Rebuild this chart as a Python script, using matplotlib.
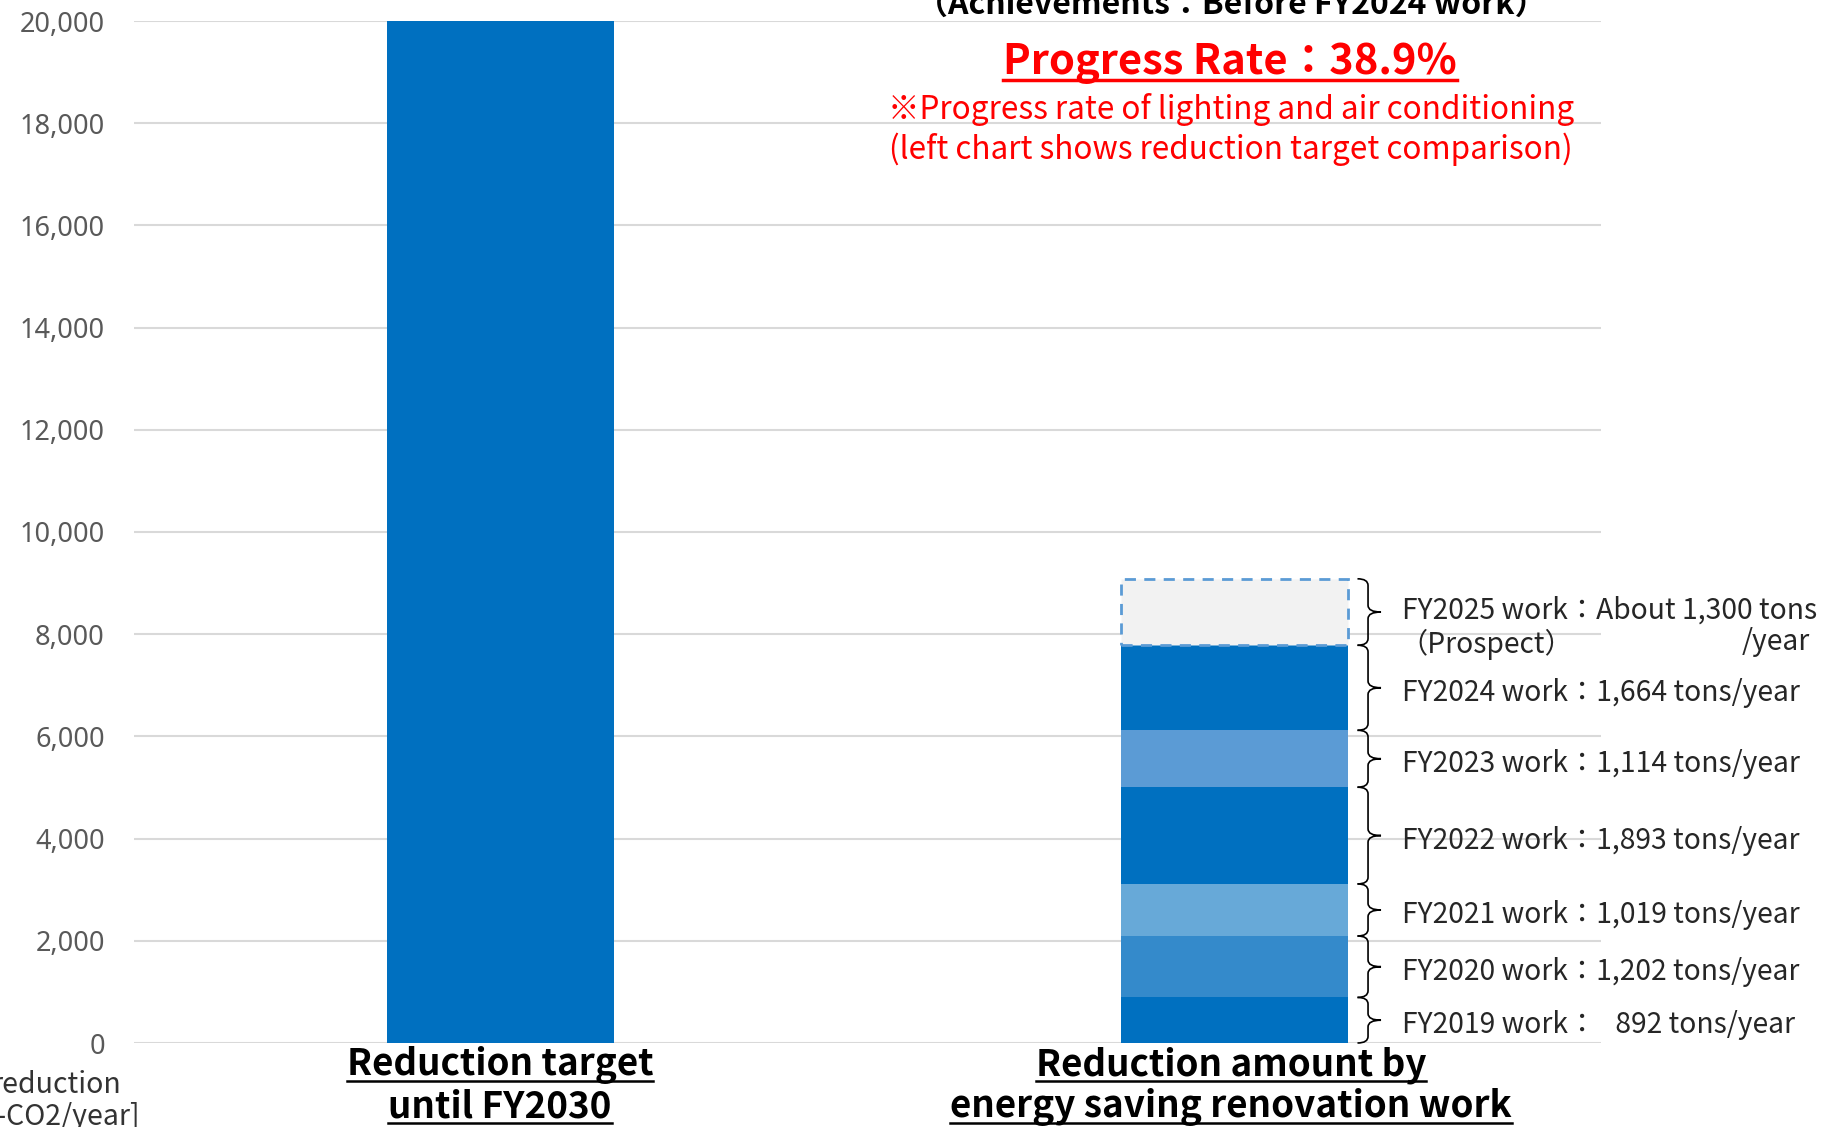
import matplotlib
matplotlib.use("Agg")
import matplotlib.pyplot as plt
from matplotlib.path import Path
from matplotlib.patches import PathPatch
from matplotlib.lines import Line2D

# ---------------- data ----------------
categories = ["Reduction target", "Reduction amount by"]
cat_line2 = ["until FY2030", "energy saving renovation work"]
target_value = 20000
work_years = ["FY2019", "FY2020", "FY2021", "FY2022", "FY2023", "FY2024", "FY2025"]
work_values = [892, 1202, 1019, 1893, 1114, 1664, 1300]
work_labels = [
    "FY2019 work：   892 tons/year",
    "FY2020 work：1,202 tons/year",
    "FY2021 work：1,019 tons/year",
    "FY2022 work：1,893 tons/year",
    "FY2023 work：1,114 tons/year",
    "FY2024 work：1,664 tons/year",
    "FY2025 work：About 1,300 tons",
]
seg_colors = ["#0070C0", "#348ACB", "#67A9D8", "#0070C0", "#5B9BD5", "#0070C0", "#F2F2F2"]
yticks = list(range(0, 20001, 2000))

W, H = 1827, 1127
FONT = ["Noto Sans CJK JP", "DejaVu Sans"]
plt.rcParams["font.family"] = FONT

fig = plt.figure(figsize=(W / 100, H / 100), dpi=100)
ax_left, ax_right, ax_top, ax_bot = 134, 1601, 21, 1043
ax = fig.add_axes([ax_left / W, 1 - ax_bot / H, (ax_right - ax_left) / W, (ax_bot - ax_top) / H])

def fxy(x, y):
    return x / W, 1 - y / H

ax.set_ylim(0, 20000)
ax.set_xlim(-0.5, 1.5)
ax.set_yticks(yticks)
ax.set_yticklabels([f"{v:,}" for v in yticks], fontfamily=["Noto Sans", "DejaVu Sans"],
                   fontsize=19.5, color="#595959")
ax.tick_params(axis="y", length=0, pad=21)
ax.set_xticks([])
ax.grid(axis="y", color="#D9D9D9", linewidth=1.5, zorder=0)
ax.set_axisbelow(True)
for s in ax.spines.values():
    s.set_visible(False)

bw = 0.31
ax.bar(0, target_value, width=bw, color="#0070C0", zorder=2)

bottom = 0
seg_bounds = []
for i, (v, c) in enumerate(zip(work_values, seg_colors)):
    if i == len(work_values) - 1:
        ax.bar(1, v, bottom=bottom, width=bw, color=c, edgecolor="#5B9BD5",
               linestyle=(0, (4, 3)), linewidth=2, zorder=2)
    else:
        ax.bar(1, v, bottom=bottom, width=bw, color=c, zorder=2)
    seg_bounds.append((bottom, bottom + v))
    bottom += v

# braces
xl, xs, xt = 1.168, 1.1824, 1.2001
r = 130
for (y0, y1) in seg_bounds:
    ym = (y0 + y1) / 2
    verts = [(xl, y1), (xs, y1), (xs, y1 - r), (xs, ym + r), (xs, ym), (xt, ym),
             (xs, ym), (xs, ym - r), (xs, y0 + r), (xs, y0), (xl, y0)]
    codes = [Path.MOVETO, Path.CURVE3, Path.CURVE3, Path.LINETO, Path.CURVE3, Path.CURVE3,
             Path.CURVE3, Path.CURVE3, Path.LINETO, Path.CURVE3, Path.CURVE3]
    ax.add_patch(PathPatch(Path(verts, codes), fill=False, edgecolor="black",
                           linewidth=1.2, clip_on=False, zorder=3))

# annotation texts
xtext = 1.2285
ann_fs = 20.3
ann_col = "#262626"
for i, ((y0, y1), lab) in enumerate(zip(seg_bounds, work_labels)):
    ym = (y0 + y1) / 2
    if i == len(work_labels) - 1:
        ax.text(xtext, ym + 30, lab, fontsize=ann_fs, color=ann_col, ha="left",
                va="center", clip_on=False)
        ax.text(xtext - 0.003, ym - 640, "（Prospect）", fontsize=ann_fs, color=ann_col,
                ha="left", va="center", clip_on=False)
        fig.text(*fxy(1810, 642), "/year", fontsize=ann_fs, color=ann_col,
                 ha="right", va="center")
    else:
        ax.text(xtext, ym - 100, lab, fontsize=ann_fs, color=ann_col, ha="left",
                va="center", clip_on=False)

# y axis label (partly cut off at the left edge, as in the reference)
fig.text(*fxy(121, 1085), "reduction", fontsize=20.5, color="#333333", ha="right", va="center")
fig.text(*fxy(140, 1117), "[t-CO2/year]", fontsize=20.5, color="#333333", ha="right", va="center")

# title texts
fig.text(*fxy(1231, 14), "（Achievements：Before FY2024 work）", fontsize=23,
         fontweight="bold", color="black", ha="center", va="baseline")
prog = fig.text(*fxy(1230, 63), "Progress Rate：38.9%", fontsize=30, fontweight="bold",
                color="#FF0000", ha="center", va="center")
fig.text(*fxy(1231, 110), "※Progress rate of lighting and air conditioning", fontsize=22.7,
         color="#FF0000", ha="center", va="center")
fig.text(*fxy(1231, 149), "(left chart shows reduction target comparison)", fontsize=22.7,
         color="#FF0000", ha="center", va="center")

# category labels
cat_texts = []
for cx, l1, l2 in [(500, categories[0], cat_line2[0]), (1231, categories[1], cat_line2[1])]:
    t1 = fig.text(*fxy(cx, 1065), l1, fontsize=26.5, fontweight="bold", color="black",
                  ha="center", va="center")
    t2 = fig.text(*fxy(cx, 1107), l2, fontsize=26.5, fontweight="bold", color="black",
                  ha="center", va="center")
    cat_texts += [t1, t2]

# underlines
fig.canvas.draw()
rend = fig.canvas.get_renderer()
def underline(t, color, lw, off):
    bb = t.get_window_extent(rend)
    y = bb.y0 + off
    fig.add_artist(Line2D([bb.x0 / W, bb.x1 / W], [y / H, y / H], color=color,
                          linewidth=lw, transform=fig.transFigure))
for t in cat_texts:
    underline(t, "black", 1.8, 3)
underline(prog, "#FF0000", 2.5, 4)

fig.savefig("out.png", dpi=100)
